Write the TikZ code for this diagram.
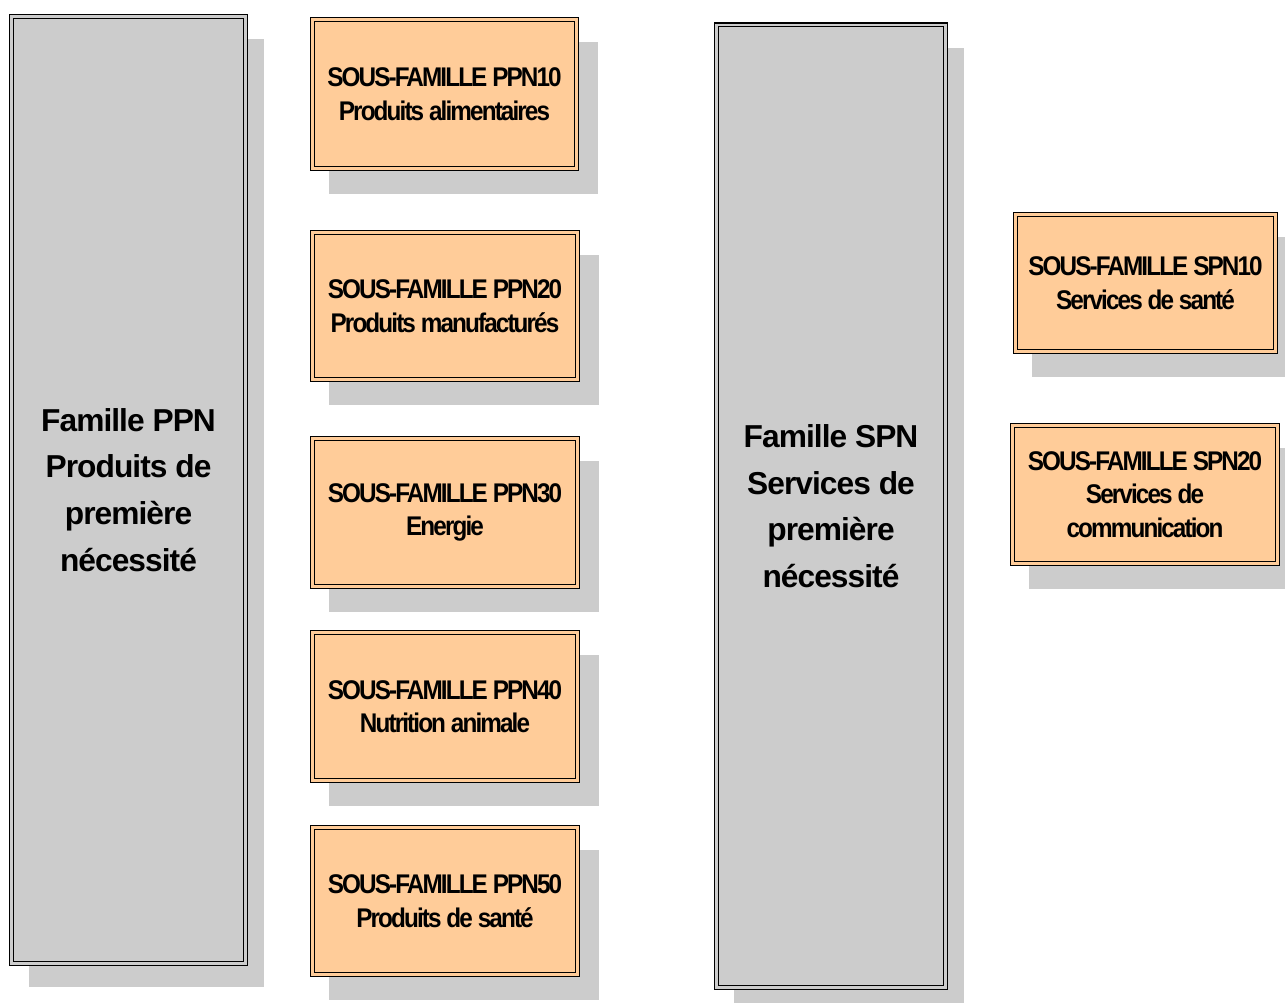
\documentclass[tikz,border=0pt]{standalone}
\usepackage{fontspec}
\usetikzlibrary{shadows}
\newfontfamily\boxfont{Liberation Sans}[LetterSpace=-7,FakeStretch=0.9]
\newfontfamily\famfont{Liberation Sans}[LetterSpace=-3]
\definecolor{famgray}{HTML}{CCCCCC}
\definecolor{subor}{HTML}{FFCC99}
\definecolor{shadowc}{HTML}{CCCCCC}
\tikzset{
  basebox/.style={rectangle, draw=black, line width=1.2pt, double distance=2.6pt,
    inner sep=0pt, align=center, text=black},
  fambox/.style={basebox, fill=famgray, double=famgray,
    drop shadow={shadow xshift=18pt, shadow yshift=-23pt, fill=shadowc, opacity=1},
    font=\famfont\bfseries\fontsize{31.7}{46.7}\selectfont},
  subbox/.style={basebox, fill=subor, double=subor,
    drop shadow={shadow xshift=18.5pt, shadow yshift=-23.5pt, shadow scale=1.02, fill=shadowc, opacity=1},
    font=\boxfont\bfseries\fontsize{27}{33.5}\selectfont},
}
\begin{document}
\begin{tikzpicture}[x=1pt,y=-1pt]
\useasboundingbox (0,0) rectangle (1285,1002);
\node[fambox, minimum width=234.4pt, minimum height=947.4pt] (famPPN) at (128.5,490)
  {Famille PPN\\Produits de\\première\\nécessité};
\node[subbox, minimum width=264.4pt, minimum height=149.4pt] (ppn10) at (444.5,94)
  {SOUS-FAMILLE PPN10\\Produits alimentaires};
\node[subbox, minimum width=265.4pt, minimum height=147.4pt] (ppn20) at (445,306)
  {SOUS-FAMILLE PPN20\\Produits manufacturés};
\node[subbox, minimum width=265.4pt, minimum height=148.4pt] (ppn30) at (445,512.5)
  {SOUS-FAMILLE PPN30\\Energie};
\node[subbox, minimum width=265.4pt, minimum height=148.4pt] (ppn40) at (445,706.5)
  {SOUS-FAMILLE PPN40\\Nutrition animale};
\node[subbox, minimum width=265.4pt, minimum height=147.4pt] (ppn50) at (445,901)
  {SOUS-FAMILLE PPN50\\Produits de santé};
\node[fambox, minimum width=229.4pt, minimum height=962.7pt] (famSPN) at (831,506.3)
  {Famille SPN\\Services de\\première\\nécessité};
\node[subbox, minimum width=260.4pt, minimum height=137.4pt] (spn10) at (1145.5,283)
  {SOUS-FAMILLE SPN10\\Services de santé};
\node[subbox, minimum width=265.4pt, minimum height=138.4pt] (spn20) at (1145,494.5)
  {SOUS-FAMILLE SPN20\\Services de\\communication};
\end{tikzpicture}
\end{document}
